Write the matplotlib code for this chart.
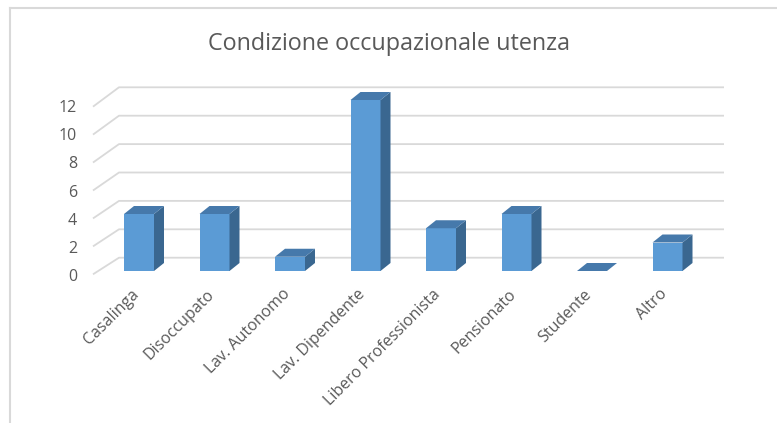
import matplotlib
matplotlib.use("Agg")
import matplotlib.pyplot as plt
from matplotlib.patches import Polygon
from matplotlib.lines import Line2D

categories = ["Casalinga", "Disoccupato", "Lav. Autonomo", "Lav. Dipendente",
              "Libero Professionista", "Pensionato", "Studente", "Altro"]
values = [4, 4, 1, 12, 3, 4, 0, 2]
yticks = [0, 2, 4, 6, 8, 10, 12]
title = "Condizione occupazionale utenza"

FRONT = "#5B9BD5"
SIDE = "#3A6790"
TOP = "#4679AB"
GRID = "#D9D9D9"
TEXT = "#595959"
FONT = "Open Sans"

W, H = 777, 423
fig = plt.figure(figsize=(W / 100, H / 100), dpi=100)
fig.patch.set_facecolor("white")

# pixel geometry
cx0, cstep = 139.0, 75.5      # first bar centre / spacing (px)
y0, ystep = 271.0, 14.25      # zero line / px per unit
left_px, right_px = 93.0, 724.0
ybot, ytop = -0.5, 13.5
xl = (left_px - cx0) / cstep
xr = (right_px - cx0) / cstep
ax_bottom_px = y0 + (-ybot) * ystep
ax_h_px = (ytop - ybot) * ystep
ax = fig.add_axes([left_px / W, (H - ax_bottom_px) / H,
                   (right_px - left_px) / W, ax_h_px / H])
ax.set_xlim(xl, xr)
ax.set_ylim(ybot, ytop)
ax.axis("off")

# frame
fig.add_artist(Line2D([10 / W, 10 / W], [0, (H - 8) / H], color=GRID, lw=1.5))
fig.add_artist(Line2D([10 / W, 1], [(H - 8) / H, (H - 8) / H], color=GRID, lw=1.5))

# gridlines (3D back wall style)
back_dx = 26.0 / cstep
for v in yticks:
    yf = (y0 - (274.3 - 13.97 * v)) / ystep
    yb = (y0 - (257.7 - 14.2 * v)) / ystep
    ax.plot([xl, xl + back_dx, xr], [yf, yb, yb], color=GRID, lw=1.3,
            zorder=1, clip_on=False, solid_capstyle="butt")
    yl = (y0 - (277.0 - 14.08 * v)) / ystep
    ax.text((77 - cx0) / cstep, yl, str(v), ha="right", va="center",
            fontsize=11.5, color=TEXT, family=FONT, clip_on=False)

# bars
bw = 30.0 / cstep
ddx = 10.0 / cstep
ddy = 8.0 / ystep
xs = list(range(len(categories)))
ax.bar(xs, values, width=bw, color=FRONT, edgecolor="none", zorder=3)
for x, v in zip(xs, values):
    xa, xb = x - bw / 2, x + bw / 2
    side = Polygon([(xb, 0), (xb + ddx, ddy), (xb + ddx, v + ddy), (xb, v)],
                   closed=True, facecolor=SIDE, edgecolor="none", zorder=3)
    top = Polygon([(xa, v), (xb, v), (xb + ddx, v + ddy), (xa + ddx, v + ddy)],
                  closed=True, facecolor=TOP, edgecolor="none", zorder=3)
    ax.add_patch(side)
    ax.add_patch(top)

# category labels
lab_y = (y0 - 292.0) / ystep
for x, c in zip(xs, categories):
    ax.text(x - 0.035, lab_y, c, rotation=45, rotation_mode="anchor",
            ha="right", va="center", fontsize=11.5, color=TEXT, family=FONT,
            clip_on=False)

fig.text(389 / W, (H - 44) / H, title, ha="center", va="center",
         fontsize=16.8, color=TEXT, family=FONT)

fig.savefig("out.png", dpi=100, facecolor="white")
